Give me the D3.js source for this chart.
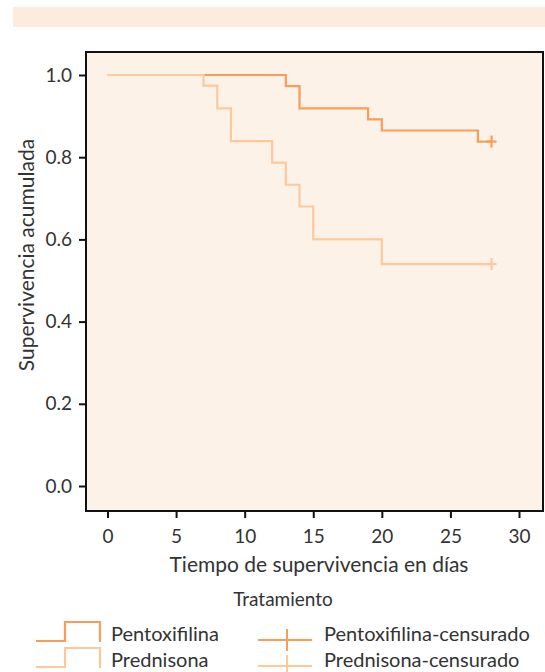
<!DOCTYPE html>
<meta charset="utf-8">
<script src="https://d3js.org/d3.v7.min.js"></script>
<style>
  body { margin: 0; background: #fff; }
  text { font-family: Lato, "Open Sans", sans-serif; fill: #333; }
</style>
<svg id="chart" width="545" height="672"></svg>
<script>
// Kaplan-Meier steps [day, survival]
var pentoxTimes = [0, 13, 14, 19, 20, 27];
var pentoxSurv  = [1.0, 0.973, 0.919, 0.892, 0.865, 0.838];
var predTimes   = [0, 7, 8, 9, 12, 13, 14, 15, 20];
var predSurv    = [1.0, 0.974, 0.919, 0.839, 0.787, 0.733, 0.68, 0.60, 0.54];
var censorDay = 28;
var xTicks = [0, 5, 10, 15, 20, 25, 30];
var yTicks = [0.0, 0.2, 0.4, 0.6, 0.8, 1.0];

var darkOrange = "#f89d5a", lightOrange = "#fdc99b";

var svg = d3.select("#chart");

// header band
svg.append("rect").attr("x", 13).attr("y", 7).attr("width", 532).attr("height", 20).attr("fill", "#fdebdd");

var x = d3.scaleLinear().domain([0, 30]).range([107.5, 519]);
var y = d3.scaleLinear().domain([0, 1]).range([486, 75]);

// plot box
svg.append("rect").attr("x", 86).attr("y", 52).attr("width", 457).attr("height", 459)
  .attr("fill", "#fdf2e8").attr("stroke", "#111").attr("stroke-width", 2);

// axes
var xAxis = svg.append("g").attr("transform", "translate(0,512)")
  .call(d3.axisBottom(x).tickValues(xTicks).tickSize(6).tickPadding(12).tickFormat(d3.format("d")));
var yAxis = svg.append("g").attr("transform", "translate(85,0)")
  .call(d3.axisLeft(y).tickValues(yTicks).tickSize(6).tickPadding(7).tickFormat(d3.format(".1f")));
[xAxis, yAxis].forEach(function(a) {
  a.select(".domain").remove();
  a.selectAll("line").attr("stroke", "#111").attr("stroke-width", 2);
  a.selectAll("text").style("font-size", "19px").style("font-family", "Lato, sans-serif").attr("fill", "#333");
});

svg.append("text").attr("x", 319).attr("y", 572).attr("text-anchor", "middle")
  .style("font-size", "21px").text("Tiempo de supervivencia en días");
svg.append("text").attr("transform", "translate(34,255) rotate(-90)").attr("text-anchor", "middle")
  .style("font-size", "21px").text("Supervivencia acumulada");

function steps(times, surv) {
  var pts = times.map(function(t, i) { return [t, surv[i]]; });
  pts.push([censorDay, surv[surv.length - 1]]);
  return pts;
}
var line = d3.line().x(function(d) { return x(d[0]); }).y(function(d) { return y(d[1]); }).curve(d3.curveStepAfter);

var series = [
  { pts: steps(pentoxTimes, pentoxSurv), color: darkOrange },
  { pts: steps(predTimes, predSurv), color: lightOrange }
];
series.forEach(function(s) {
  svg.append("path").attr("d", line(s.pts)).attr("fill", "none")
    .attr("stroke", s.color).attr("stroke-width", 2.2);
  var last = s.pts[s.pts.length - 1];
  svg.append("line").attr("x1", x(last[0]) - 5).attr("x2", x(last[0]) + 5)
    .attr("y1", y(last[1])).attr("y2", y(last[1])).attr("stroke", s.color).attr("stroke-width", 2.2);
  svg.append("line").attr("x1", x(last[0])).attr("x2", x(last[0]))
    .attr("y1", y(last[1]) - 6).attr("y2", y(last[1]) + 6).attr("stroke", s.color).attr("stroke-width", 2.2);
});

// legend
svg.append("text").attr("x", 283).attr("y", 606).attr("text-anchor", "middle")
  .style("font-size", "19px").text("Tratamiento");

var legend = [
  { name: "Pentoxifilina", color: darkOrange, yl: 641 },
  { name: "Prednisona", color: lightOrange, yl: 667 }
];
legend.forEach(function(d) {
  svg.append("path")
    .attr("d", "M36," + d.yl + "H65V" + (d.yl - 19) + "H100V" + (d.yl + 1))
    .attr("fill", "none").attr("stroke", d.color).attr("stroke-width", 2.2);
  svg.append("text").attr("x", 111).attr("y", d.yl).style("font-size", "20px").text(d.name);
  var cy = d.yl - 1;
  svg.append("line").attr("x1", 258).attr("x2", 312).attr("y1", cy).attr("y2", cy)
    .attr("stroke", d.color).attr("stroke-width", 2);
  svg.append("line").attr("x1", 287).attr("x2", 287).attr("y1", cy - 11).attr("y2", cy + 11)
    .attr("stroke", d.color).attr("stroke-width", 2);
  svg.append("text").attr("x", 324).attr("y", d.yl).style("font-size", "20px").text(d.name + "-censurado");
});
</script>
